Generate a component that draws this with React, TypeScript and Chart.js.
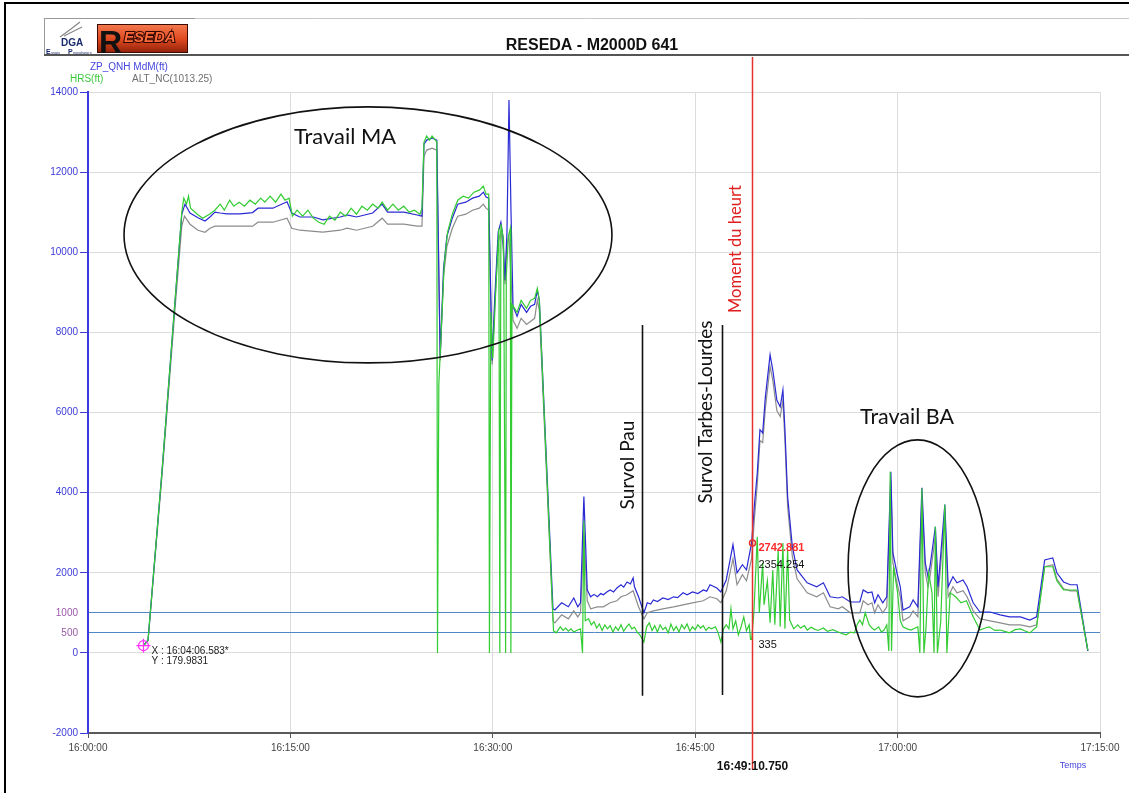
import React, { useEffect, useRef } from "react";
import { Chart, registerables } from "chart.js";
Chart.register(...registerables);

// ---------- DATA ----------
const CHART_TITLE = "RESEDA - M2000D 641";
const SERIES_NAMES = ["ZP_QNH MdM(ft)", "HRS(ft)", "ALT_NC(1013.25)"];
const X_AXIS_NAME = "Temps";
const START_HOUR = 16;
const X_TICK_MINUTES = [0, 15, 30, 45, 60, 75];
const Y_TICKS = [-2000, 0, 2000, 4000, 6000, 8000, 10000, 12000, 14000];
const REF_LEVELS = [500, 1000];

// minutes after 16:00, feet
const ZP_QNH: [number, number][] = [
  [4.11,180],[4.45,320],[5.5,4600],[6.5,9000],[6.95,10950],[7.19,11200],[7.56,10980],[8.15,10860],[8.67,10780],[9.04,10880],
  [9.41,11000],[9.78,10980],[10.3,10960],[11.27,10960],[12.2,10990],[12.6,11100],[13.7,11100],[14.75,11260],[15.1,10980],[15.7,10880],
  [16.7,10880],[17.4,10810],[18.7,10880],[19.2,10930],[19.9,10880],[21.1,10980],[21.8,11200],[22.2,11000],[23.4,11000],[24.4,10930],
  [24.75,10900],[24.9,12700],[25.1,12800],[25.5,12850],[25.85,12800],[26.1,7400],[26.35,9600],[26.6,10400],[27.0,10850],[27.4,11200],
  [28.0,11250],[28.5,11350],[29.0,11400],[29.3,11500],[29.5,11380],[29.7,11350],[29.95,7300],[30.15,8900],[30.4,10500],[30.6,10750],
  [30.75,10400],[30.9,9300],[31.05,10500],[31.2,13800],[31.35,11000],[31.5,8650],[31.8,8400],[32.1,8700],[32.5,8500],[32.8,8650],
  [33.1,8700],[33.3,9050],[33.45,8800],[34.46,1100],[34.6,1070],[35.1,1250],[35.6,1150],[36.0,1370],[36.3,1150],[36.5,1250],
  [36.75,3900],[37.0,1570],[37.25,1400],[37.5,1460],[37.75,1400],[38.0,1480],[38.2,1450],[38.45,1520],[38.7,1570],[38.95,1520],
  [39.2,1620],[39.5,1700],[39.7,1640],[39.95,1770],[40.2,1720],[40.4,1870],[40.5,1650],[40.8,1400],[41.2,1000],[41.45,1250],
  [41.7,1220],[41.9,1320],[42.2,1280],[42.6,1370],[43.0,1330],[43.4,1400],[43.7,1380],[44.1,1500],[44.4,1450],[44.8,1520],
  [45.2,1480],[45.6,1570],[45.85,1540],[46.1,1700],[46.6,1620],[46.9,1520],[47.3,1820],[47.8,2700],[48.1,2000],[48.5,2200],
  [48.8,2070],[49.18,2743],[49.4,3740],[49.6,4490],[49.8,5570],[50.0,5490],[50.2,6390],[50.55,7440],[50.75,7060],[51.05,6310],
  [51.3,6140],[51.5,6560],[51.65,5570],[51.85,3900],[52.2,2650],[52.55,2070],[53.3,1750],[54.0,1650],[54.5,1750],[55.0,1400],
  [55.6,1370],[55.9,1400],[56.5,1270],[57.2,1270],[57.45,1570],[57.8,1500],[58.1,1520],[58.3,1250],[58.55,1450],[58.9,1250],
  [59.2,1400],[59.5,4520],[59.65,2500],[59.95,2000],[60.2,1650],[60.4,1070],[60.9,1150],[61.15,1320],[61.5,1150],[61.8,4120],
  [62.05,2250],[62.25,1900],[62.4,2150],[62.8,3150],[63.0,1650],[63.5,3700],[63.75,1650],[64.1,1900],[64.4,1750],[64.85,1820],
  [65.15,1650],[65.6,1250],[66.1,1020],[66.85,1020],[67.6,950],[68.3,900],[69.1,900],[69.8,820],[70.3,900],[70.9,2320],
  [71.5,2370],[71.8,2000],[72.3,1770],[72.8,1700],[73.3,1700],[74.1,50]
];

const ALT_NC: [number, number][] = [
  [4.11,180],[4.45,300],[5.5,4500],[6.5,8800],[6.95,10650],[7.15,10900],[7.56,10700],[8.15,10550],[8.67,10500],[9.04,10600],
  [9.41,10650],[10.3,10650],[12.2,10650],[12.6,10750],[13.7,10750],[14.75,10850],[15.1,10600],[15.7,10550],[17.4,10500],[18.7,10550],
  [19.2,10600],[19.9,10550],[21.1,10650],[21.8,10850],[22.2,10700],[23.4,10700],[24.4,10650],[24.75,10650],[24.9,12400],[25.1,12550],
  [25.5,12600],[25.85,12550],[26.1,7300],[26.35,9400],[26.6,10150],[27.0,10600],[27.4,10900],[28.0,10950],[28.5,11050],[29.0,11100],
  [29.3,11200],[29.5,11100],[29.7,11050],[29.95,7200],[30.15,8700],[30.4,10250],[30.6,10500],[30.75,10200],[30.9,9200],[31.05,10200],
  [31.2,10400],[31.5,8300],[31.8,8100],[32.1,8350],[32.5,8200],[33.1,8350],[33.3,8800],[33.45,8550],[34.46,800],[34.6,750],
  [35.1,950],[35.6,850],[36.0,1050],[36.3,900],[36.5,1000],[36.75,3000],[37.0,1300],[37.25,1100],[37.75,1150],[38.2,1150],
  [38.7,1250],[39.2,1300],[39.5,1400],[39.95,1450],[40.4,1550],[40.8,1150],[41.2,850],[41.45,1000],[41.9,1050],[42.6,1100],
  [43.4,1150],[44.1,1200],[44.8,1250],[45.6,1300],[46.1,1400],[46.6,1350],[46.9,1250],[47.3,1550],[47.8,2350],[48.1,1700],
  [48.5,1950],[48.8,1800],[49.18,2354],[49.4,3400],[49.6,4200],[49.8,5300],[50.0,5250],[50.2,6100],[50.55,7150],[50.75,6800],
  [51.05,6050],[51.3,5900],[51.5,6300],[51.65,5300],[51.85,3650],[52.2,2400],[52.55,1850],[53.3,1500],[54.0,1400],[54.5,1500],
  [55.0,1150],[55.6,1100],[55.9,1150],[56.5,1000],[57.2,1000],[57.45,1300],[57.8,1200],[58.1,1250],[58.3,1000],[58.55,1200],
  [58.9,1000],[59.2,1150],[59.5,4300],[59.65,2250],[59.95,1750],[60.2,1400],[60.4,800],[60.9,900],[61.15,1050],[61.5,900],
  [61.8,3900],[62.05,2000],[62.25,1650],[62.4,1900],[62.8,2900],[63.0,1400],[63.5,3450],[63.75,1400],[64.1,1650],[64.4,1500],
  [64.85,1550],[65.15,1400],[65.6,1050],[66.1,850],[66.85,800],[67.6,750],[68.3,700],[69.1,700],[69.8,650],[70.3,700],
  [70.9,2150],[71.5,2200],[71.8,1850],[72.3,1600],[72.8,1550],[73.3,1550],[74.1,50]
];

const HRS: [number, number][] = [
  [4.11,180],[4.45,320],[5.5,4600],[6.5,9000],[6.95,11000],[7.1,11350],[7.3,11200],[7.45,11400],[7.6,11100],[8.1,10950],
  [8.5,10850],[9.0,10950],[9.4,11050],[9.8,11200],[10.1,11050],[10.5,11300],[10.8,11150],[11.2,11250],[11.6,11150],[12.0,11300],
  [12.4,11200],[12.8,11350],[13.1,11250],[13.5,11400],[13.9,11250],[14.3,11450],[14.6,11300],[14.9,11350],[15.15,10900],[15.5,11050],
  [15.9,10900],[16.3,11050],[16.7,10850],[17.1,10750],[17.5,10700],[17.9,10900],[18.3,10800],[18.7,11000],[19.1,10900],[19.5,11100],
  [19.9,10950],[20.3,11150],[20.7,11050],[21.1,11200],[21.5,11100],[21.8,11250],[22.2,11050],[22.6,11200],[23.0,11050],[23.4,11150],
  [23.8,11000],[24.2,11050],[24.6,10950],[24.75,11100],[24.9,12750],[25.1,12900],[25.3,12800],[25.5,12900],[25.75,12800],[25.85,12750],
  [25.9,0],[26.0,6700],[26.2,8200],[26.4,9700],[26.65,10500],[27.0,10950],[27.4,11300],[27.8,11400],[28.2,11350],[28.6,11500],
  [29.0,11550],[29.3,11650],[29.5,11450],[29.7,11450],[29.75,0],[29.85,8500],[30.0,7350],[30.2,8900],[30.45,10600],[30.52,0],
  [30.6,10700],[30.8,10300],[30.95,0],[31.0,9400],[31.15,10400],[31.3,10600],[31.34,0],[31.42,8700],[31.8,8500],[32.1,8800],
  [32.5,8600],[32.8,8800],[33.1,8850],[33.3,9100],[33.45,8800],[34.5,550],[34.7,500],[35.0,650],[35.2,560],[35.4,620],
  [35.6,540],[35.8,600],[36.0,520],[36.2,560],[36.5,600],[36.65,0],[36.75,3300],[36.85,800],[37.1,850],[37.3,700],
  [37.5,780],[37.7,620],[37.9,720],[38.1,560],[38.3,700],[38.5,600],[38.7,680],[38.9,520],[39.1,650],[39.3,560],
  [39.5,700],[39.7,540],[39.9,640],[40.1,720],[40.3,600],[40.5,640],[40.7,520],[40.9,450],[41.2,270],[41.4,650],
  [41.6,750],[41.8,560],[42.0,680],[42.2,520],[42.4,700],[42.6,580],[42.8,640],[43.0,500],[43.2,720],[43.4,560],
  [43.6,660],[43.8,520],[44.0,700],[44.2,600],[44.4,720],[44.6,540],[44.8,650],[45.0,580],[45.2,700],[45.4,620],
  [45.6,680],[45.8,560],[46.0,640],[46.2,600],[46.5,650],[46.7,500],[46.9,270],[47.1,600],[47.3,700],[47.5,600],
  [47.65,1100],[47.8,600],[48.0,800],[48.2,450],[48.4,650],[48.6,900],[48.8,550],[49.0,700],[49.1,335],[49.18,335],
  [49.35,1000],[49.6,2900],[49.75,1000],[50.0,2250],[50.1,1200],[50.35,1800],[50.55,750],[50.75,2070],[50.9,700],[51.15,2570],
  [51.3,650],[51.5,2740],[51.65,600],[51.85,2570],[52.0,820],[52.3,600],[52.6,700],[52.8,620],[53.1,680],[53.3,570],
  [53.6,640],[53.8,600],[54.1,560],[54.5,620],[54.8,540],[55.2,580],[55.6,520],[55.9,480],[56.2,450],[56.5,520],
  [56.8,500],[57.0,700],[57.2,820],[57.4,700],[57.6,1000],[57.9,700],[58.1,620],[58.3,570],[58.6,650],[58.8,520],
  [59.0,570],[59.2,700],[59.35,50],[59.45,4520],[59.55,50],[59.7,2150],[60.0,1500],[60.2,800],[60.4,650],[60.7,600],
  [61.0,570],[61.3,620],[61.5,650],[61.65,0],[61.8,4100],[61.95,0],[62.1,600],[62.3,2000],[62.55,1500],[62.7,0],
  [62.8,3150],[62.95,0],[63.2,800],[63.5,3700],[63.65,0],[63.9,1500],[64.3,1400],[64.7,1250],[65.1,1300],[65.6,900],
  [66.1,570],[66.5,620],[66.8,650],[67.2,560],[67.6,570],[68.0,530],[68.3,500],[68.7,580],[69.1,600],[69.5,540],
  [69.8,500],[70.3,650],[70.9,2150],[71.5,2150],[71.8,1800],[72.3,1570],[73.3,1570],[74.1,70]
];

const CURSOR_MINUTE = 49 + 10.75 / 60; // 16:49:10.750
const CURSOR_LABEL = "16:49:10.750";
const CURSOR_VALUES = ["2742.881", "2354.254", "335"];
const CURSOR_BLUE_VALUE = 2742.881;
const START_MARK = { minute: 4 + 6.583 / 60, value: 179.9831, xText: "X : 16:04:06.583*", yText: "Y : 179.9831" };

// ---------- ANNOTATION LAYOUT (data units) ----------
const ELLIPSES = [
  { m0: 2.67, m1: 38.83, v0: 7238, v1: 13628 },
  { m0: 56.33, m1: 66.63, v0: -1098, v1: 5316 },
];
const NOTE_TEXTS = [
  { text: "Travail MA", m: 19.05, v: 12880, w: 102, rot: false, color: "#111" },
  { text: "Travail BA", m: 60.7, v: 5890, w: 94, rot: false, color: "#111" },
  { text: "Survol Pau", m: 40.0, v: 4690, w: 89, rot: true, color: "#111" },
  { text: "Survol Tarbes-Lourdes", m: 45.8, v: 6010, w: 183, rot: true, color: "#111" },
  { text: "Moment du heurt", m: 48.03, v: 10080, w: 128, rot: true, color: "#e02020" },
];
const MARK_LINES = [
  { m: 41.06, v0: 8187, v1: -1073 },
  { m: 46.99, v0: 8187, v1: -1050 },
];

const FONT = '"Liberation Sans", Arial, sans-serif';
const NOTE_FONT = 'Lato, "Open Sans", sans-serif';

function fmtTime(m: number) {
  const tot = START_HOUR * 60 + m;
  const h = Math.floor(tot / 60);
  const mm = Math.round(tot - h * 60);
  return `${h}:${String(mm).padStart(2, "0")}:00`;
}

function fitFont(ctx: CanvasRenderingContext2D, text: string, width: number, family: string, weight = "") {
  ctx.font = `${weight} 20px ${family}`;
  const w = ctx.measureText(text).width;
  const size = (20 * width) / w;
  ctx.font = `${weight} ${size.toFixed(2)}px ${family}`;
}

const overlayPlugin = {
  id: "overlay",
  afterDraw(chart: any) {
    const ctx: CanvasRenderingContext2D = chart.ctx;
    const xs = chart.scales.x;
    const ys = chart.scales.y;
    const px = (m: number) => xs.getPixelForValue(m);
    const py = (v: number) => ys.getPixelForValue(v);
    ctx.save();

    // outer frame
    ctx.strokeStyle = "#000";
    ctx.lineWidth = 2;
    ctx.beginPath();
    ctx.moveTo(5, 793);
    ctx.lineTo(5, 3);
    ctx.lineTo(1129, 3);
    ctx.stroke();

    // header lines
    ctx.strokeStyle = "#c8c8c8";
    ctx.lineWidth = 1;
    ctx.beginPath();
    ctx.moveTo(44, 18.5);
    ctx.lineTo(1129, 18.5);
    ctx.stroke();
    ctx.strokeStyle = "#999";
    ctx.beginPath();
    ctx.moveTo(44.5, 18);
    ctx.lineTo(44.5, 55);
    ctx.moveTo(44, 18.5);
    ctx.lineTo(195, 18.5);
    ctx.stroke();
    ctx.strokeStyle = "#555";
    ctx.lineWidth = 2;
    ctx.beginPath();
    ctx.moveTo(44, 55);
    ctx.lineTo(1129, 55);
    ctx.stroke();

    // DGA logo
    ctx.strokeStyle = "#888";
    ctx.lineWidth = 1.2;
    ctx.beginPath();
    ctx.moveTo(60, 37);
    ctx.quadraticCurveTo(70, 30, 80, 22);
    ctx.moveTo(64, 36);
    ctx.quadraticCurveTo(74, 31, 82, 27);
    ctx.stroke();
    ctx.fillStyle = "#1a2a6a";
    ctx.font = `bold 10px ${FONT}`;
    ctx.textAlign = "left";
    ctx.textBaseline = "alphabetic";
    ctx.fillText("DGA", 61, 46);
    ctx.font = `bold 7px ${FONT}`;
    ctx.fillText("E", 46, 54);
    ctx.fillText("P", 68, 54);
    ctx.font = `4px ${FONT}`;
    ctx.fillText("ssais", 51, 54);
    ctx.fillText("ropulseurs", 73, 54);

    // RESEDA logo
    const g = ctx.createLinearGradient(0, 24, 0, 54);
    g.addColorStop(0, "#f47a50");
    g.addColorStop(0.5, "#e04a20");
    g.addColorStop(1, "#8a1e08");
    ctx.fillStyle = g;
    ctx.fillRect(97, 24, 91, 29);
    ctx.strokeStyle = "#3a0a00";
    ctx.lineWidth = 1;
    ctx.strokeRect(97.5, 24.5, 90, 28);
    ctx.fillStyle = "#111";
    ctx.font = `bold 32px ${FONT}`;
    ctx.fillText("R", 99, 53);
    ctx.font = `bold italic 15px ${FONT}`;
    ctx.lineWidth = 2;
    ctx.strokeStyle = "#2a0500";
    ctx.strokeText("ESEDA", 124, 42);
    ctx.fillStyle = "#ff6a3a";
    ctx.fillText("ESEDA", 124, 42);

    // title
    ctx.fillStyle = "#111";
    ctx.font = `bold 16px ${FONT}`;
    ctx.textAlign = "center";
    ctx.textBaseline = "middle";
    ctx.fillText(CHART_TITLE, 592, 46);

    // legend labels
    ctx.font = `10px ${FONT}`;
    ctx.textAlign = "left";
    ctx.fillStyle = "#4545e0";
    ctx.fillText(SERIES_NAMES[0], 90, 67);
    ctx.fillStyle = "#3ec83e";
    ctx.fillText(SERIES_NAMES[1], 70, 79);
    ctx.fillStyle = "#707070";
    ctx.fillText(SERIES_NAMES[2], 132, 79);

    // x axis name
    ctx.fillStyle = "#4545e0";
    ctx.font = `9px ${FONT}`;
    ctx.textAlign = "center";
    ctx.fillText(X_AXIS_NAME, 1073, 766);

    // ellipses
    ctx.strokeStyle = "#111";
    ctx.lineWidth = 1.6;
    for (const e of ELLIPSES) {
      const x0 = px(e.m0), x1 = px(e.m1), y0 = py(e.v1), y1 = py(e.v0);
      ctx.beginPath();
      ctx.ellipse((x0 + x1) / 2, (y0 + y1) / 2, (x1 - x0) / 2, (y1 - y0) / 2, 0, 0, Math.PI * 2);
      ctx.stroke();
    }

    // vertical marker lines
    ctx.lineWidth = 1.6;
    for (const l of MARK_LINES) {
      const x = Math.round(px(l.m)) + 0.5;
      ctx.beginPath();
      ctx.moveTo(x, py(l.v0));
      ctx.lineTo(x, py(l.v1));
      ctx.stroke();
    }

    // notes
    ctx.textBaseline = "middle";
    ctx.textAlign = "center";
    for (const n of NOTE_TEXTS) {
      fitFont(ctx, n.text, n.w, NOTE_FONT);
      ctx.fillStyle = n.color;
      const x = px(n.m), y = py(n.v);
      if (n.rot) {
        ctx.save();
        ctx.translate(x, y);
        ctx.rotate(-Math.PI / 2);
        ctx.fillText(n.text, 0, 0);
        ctx.restore();
      } else {
        ctx.fillText(n.text, x, y);
      }
    }

    // cursor line
    const cx = Math.round(px(CURSOR_MINUTE)) + 0.5;
    ctx.strokeStyle = "#e53030";
    ctx.lineWidth = 1.5;
    ctx.beginPath();
    ctx.moveTo(cx, 57);
    ctx.lineTo(cx, 770);
    ctx.stroke();
    ctx.beginPath();
    ctx.arc(cx, py(CURSOR_BLUE_VALUE), 3, 0, Math.PI * 2);
    ctx.stroke();
    ctx.fillStyle = "#111";
    ctx.font = `bold 12px ${FONT}`;
    ctx.textAlign = "center";
    ctx.fillText(CURSOR_LABEL, cx, 767);
    ctx.textAlign = "left";
    ctx.font = `bold 11px ${FONT}`;
    ctx.fillStyle = "#ff2a2a";
    ctx.fillText(CURSOR_VALUES[0], cx + 6, 548);
    ctx.fillStyle = "#111";
    ctx.font = `11px ${FONT}`;
    ctx.fillText(CURSOR_VALUES[1], cx + 6, 565);
    ctx.fillText(CURSOR_VALUES[2], cx + 6, 645);

    // start mark
    const sx = px(START_MARK.minute), sy = py(START_MARK.value);
    ctx.strokeStyle = "#ff30ff";
    ctx.lineWidth = 1.2;
    ctx.beginPath();
    ctx.arc(sx, sy, 5, 0, Math.PI * 2);
    ctx.moveTo(sx - 7, sy);
    ctx.lineTo(sx + 7, sy);
    ctx.moveTo(sx, sy - 7);
    ctx.lineTo(sx, sy + 7);
    ctx.stroke();
    ctx.fillStyle = "#222";
    ctx.font = `10px ${FONT}`;
    ctx.fillText(START_MARK.xText, sx + 8, sy + 6);
    ctx.fillText(START_MARK.yText, sx + 8, sy + 16);

    ctx.restore();
  },
};

export default function App() {
  const ref = useRef<HTMLCanvasElement>(null);
  useEffect(() => {
    const canvas = ref.current!;
    const toXY = (arr: [number, number][]) => arr.map(([x, y]) => ({ x, y }));
    const chart = new Chart(canvas, {
      type: "line",
      data: {
        datasets: [
          { label: SERIES_NAMES[1], data: toXY(HRS), borderColor: "#33cc33", borderWidth: 1.2, pointRadius: 0, order: 0 } as any,
          { label: SERIES_NAMES[0], data: toXY(ZP_QNH), borderColor: "#2a2ad4", borderWidth: 1.2, pointRadius: 0, order: 1 } as any,
          { label: SERIES_NAMES[2], data: toXY(ALT_NC), borderColor: "#8c8c8c", borderWidth: 1.2, pointRadius: 0, order: 2 } as any,
        ],
      },
      options: {
        animation: false,
        responsive: false,
        devicePixelRatio: 1,
        layout: { padding: { top: 92, right: 29, left: 0, bottom: 0 } },
        plugins: { legend: { display: false }, tooltip: { enabled: false }, title: { display: false } },
        scales: {
          x: {
            type: "linear",
            min: 0,
            max: 75,
            afterBuildTicks: (s: any) => { s.ticks = X_TICK_MINUTES.map((v) => ({ value: v })); },
            afterFit: (s: any) => { s.height = 60; },
            ticks: { callback: (v: any) => fmtTime(Number(v)), color: "#444", font: { size: 10, family: FONT }, padding: 4, maxRotation: 0, autoSkip: false },
            grid: { color: "#dcdcdc", tickColor: "#555", tickLength: 5, lineWidth: 1 },
            border: { color: "#5a5a5a", width: 2 },
          },
          y: {
            type: "linear",
            min: -2000,
            max: 14000,
            afterBuildTicks: (s: any) => {
              s.ticks = [...Y_TICKS, ...REF_LEVELS].sort((a, b) => a - b).map((v) => ({ value: v }));
            },
            afterFit: (s: any) => { s.width = 88; },
            ticks: {
              callback: (v: any) => String(v),
              color: (c: any) => (REF_LEVELS.includes(c.tick?.value) ? "#9a5aa8" : "#3b3bd8"),
              font: { size: 10, family: FONT },
              padding: 2,
              autoSkip: false,
            },
            grid: {
              color: (c: any) => (REF_LEVELS.includes(c.tick?.value) ? "#4f86c6" : "#dcdcdc"),
              tickColor: (c: any) => (REF_LEVELS.includes(c.tick?.value) ? "rgba(0,0,0,0)" : "#3b3be0"),
              tickLength: 8,
              lineWidth: 1,
            },
            border: { color: "#3b3be0", width: 2 },
          },
        },
      } as any,
      plugins: [overlayPlugin],
    });
    return () => chart.destroy();
  }, []);
  return (
    <div style={{ position: "absolute", left: 0, top: 0, width: 1129, height: 793, background: "#fff" }}>
      <canvas ref={ref} width={1129} height={793} style={{ display: "block", width: 1129, height: 793 }} />
    </div>
  );
}
